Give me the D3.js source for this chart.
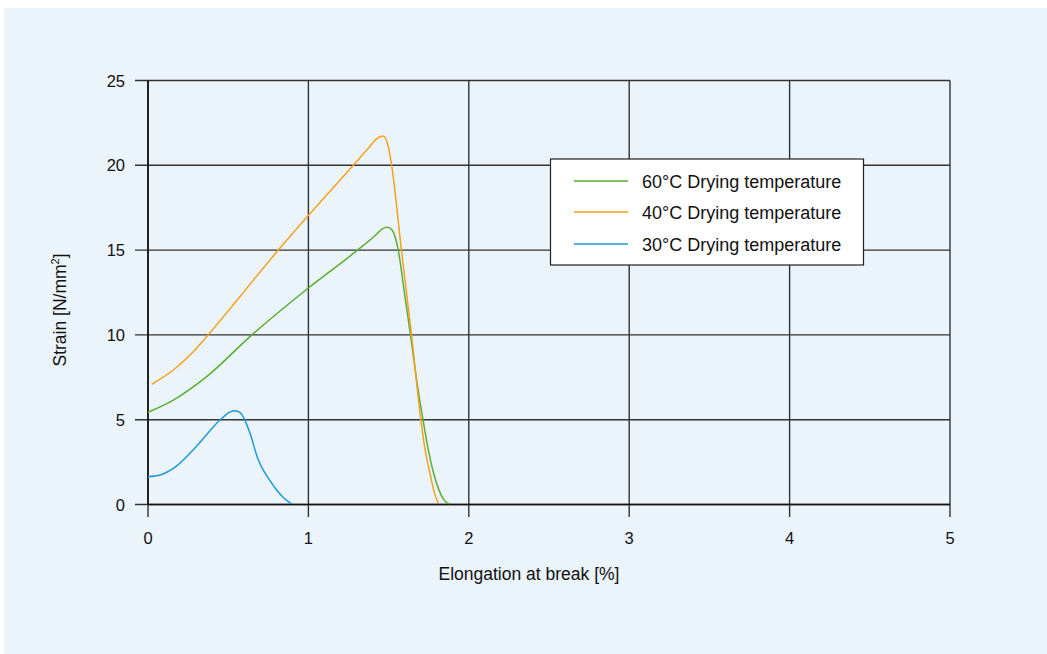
<!DOCTYPE html>
<html><head><meta charset="utf-8">
<script src="https://cdn.jsdelivr.net/npm/d3@7"></script>
<style>body{margin:0;background:#fff}svg{display:block}text{font-family:"Liberation Sans",Arial,sans-serif;fill:#111}</style>
</head><body><svg id="c" width="1047" height="654"></svg>
<script>
const xTicks=[0,1,2,3,4,5];
const yTicks=[0,5,10,15,20,25];
const seriesNames=["60°C Drying temperature","40°C Drying temperature","30°C Drying temperature"];
const seriesColors=["#5aae32","#f4a11d","#1a9ad8"];
const green=[[0,5.44],[0.158,6.16],[0.366,7.54],[0.636,9.9],[1.002,12.78],[1.30,14.95],[1.42,15.89],[1.46,16.25],[1.494,16.34],[1.52,16.2],[1.54,15.8],[1.56,15.0],[1.60,12.4],[1.638,9.9],[1.68,7.0],[1.716,4.92],[1.75,3.1],[1.779,1.9],[1.81,0.95],[1.84,0.35],[1.865,0.1],[1.883,0.05]];
const orange=[[0.023,7.09],[0.158,7.93],[0.262,8.81],[0.366,9.9],[0.574,12.27],[0.812,15.0],[1.002,17.07],[1.28,20.0],[1.384,21.12],[1.426,21.57],[1.467,21.73],[1.498,21.1],[1.519,20.0],[1.58,15.0],[1.644,9.9],[1.702,4.92],[1.73,3.1],[1.758,1.84],[1.785,0.7],[1.81,0.07]];
const blue=[[0,1.64],[0.075,1.74],[0.158,2.13],[0.30,3.41],[0.449,4.98],[0.51,5.45],[0.542,5.53],[0.575,5.42],[0.600,5.05],[0.636,4.2],[0.688,2.62],[0.719,2.03],[0.76,1.42],[0.802,0.85],[0.85,0.35],[0.896,0.03]];
const seriesData=[green,orange,blue];

const svg=d3.select("#c");
svg.append("rect").attr("x",4).attr("y",8).attr("width",1043).attr("height",646).attr("fill","#ebf3fb");
const x=d3.scaleLinear().domain([0,5]).range([148,950]);
const y=d3.scaleLinear().domain([0,25]).range([504.5,80.5]);

const g=svg.append("g");
g.selectAll(".hg").data(yTicks).join("line").attr("x1",135).attr("x2",950).attr("y1",d=>y(d)).attr("y2",d=>y(d)).attr("stroke","#333").attr("stroke-width",1.4);
g.selectAll(".vg").data(xTicks).join("line").attr("x1",d=>x(d)).attr("x2",d=>x(d)).attr("y1",y(25)).attr("y2",517).attr("stroke","#333").attr("stroke-width",1.4);
svg.append("line").attr("x1",x(0)).attr("x2",x(5)).attr("y1",y(0)).attr("y2",y(0)).attr("stroke","#111").attr("stroke-width",1.6);
svg.append("line").attr("x1",x(0)).attr("x2",x(0)).attr("y1",y(0)).attr("y2",y(25)).attr("stroke","#111").attr("stroke-width",1.6);

svg.selectAll(".yl").data(yTicks).join("text").attr("x",125).attr("y",d=>y(d)+6).attr("text-anchor","end").attr("font-size",16.5).text(d=>d);
svg.selectAll(".xl").data(xTicks).join("text").attr("x",d=>x(d)).attr("y",544).attr("text-anchor","middle").attr("font-size",16.5).text(d=>d);
svg.append("text").attr("x",529).attr("y",580).attr("text-anchor","middle").attr("font-size",17.5).text("Elongation at break [%]");
svg.append("text").attr("transform","translate(66,310) rotate(-90)").attr("text-anchor","middle").attr("font-size",17.5).html('Strain [N/mm<tspan dy="-7" font-size="11">2</tspan><tspan dy="7">]</tspan>');

const line=d3.line().x(d=>x(d[0])).y(d=>y(d[1])).curve(d3.curveMonotoneX);
seriesData.forEach((s,i)=>{
  svg.append("path").attr("d",line(s)).attr("fill","none").attr("stroke",seriesColors[i]).attr("stroke-width",1.5);
});

const lg=svg.append("g");
lg.append("rect").attr("x",550.5).attr("y",159).attr("width",313).attr("height",106).attr("fill","#fff").attr("stroke","#222").attr("stroke-width",1.2);
const rows=[181,212,244];
seriesNames.forEach((n,i)=>{
  lg.append("line").attr("x1",574).attr("x2",628).attr("y1",rows[i]).attr("y2",rows[i]).attr("stroke",seriesColors[i]).attr("stroke-width",1.5);
  lg.append("text").attr("x",642).attr("y",rows[i]+6.5).attr("font-size",18).text(n);
});
</script></body></html>
